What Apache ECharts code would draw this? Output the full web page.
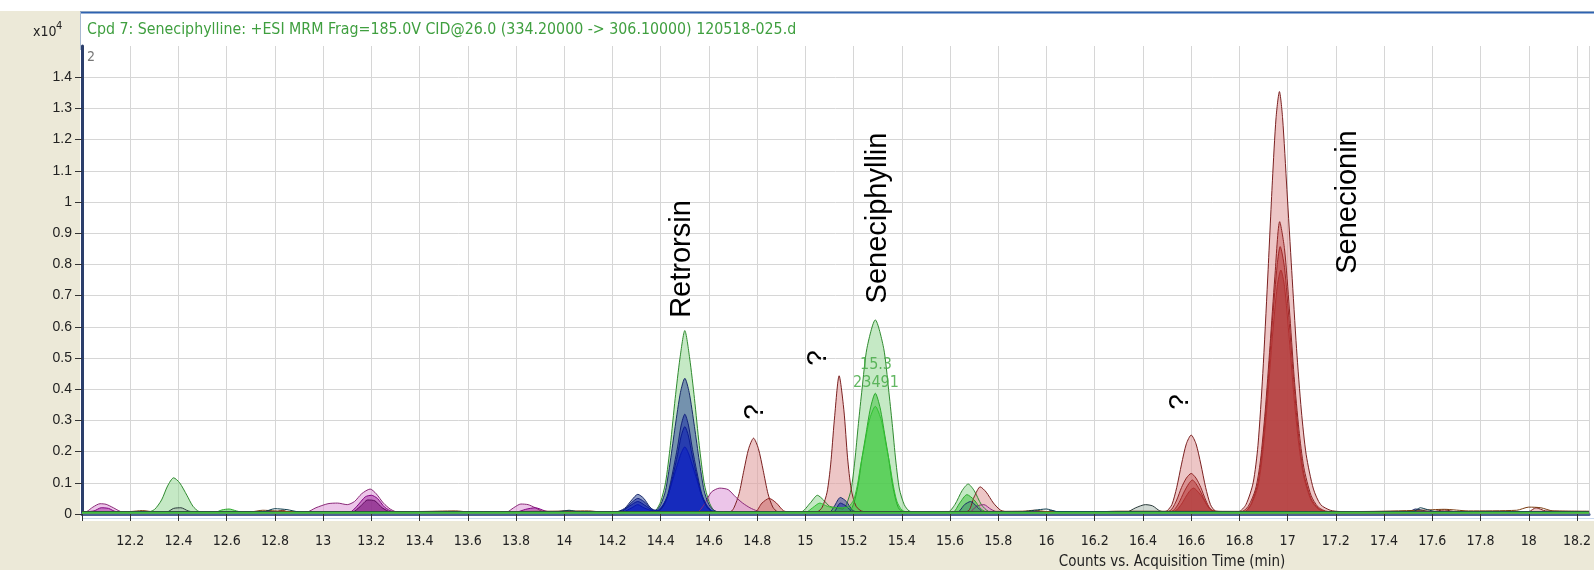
<!DOCTYPE html>
<html><head><meta charset="utf-8">
<script src="https://cdn.jsdelivr.net/npm/echarts@6/dist/echarts.min.js"></script>
<style>html,body{margin:0;padding:0;background:#ECE9D8;overflow:hidden}#c{width:1594px;height:570px}</style>
</head><body><div id="c"></div>
<script>
// ---- data: counts (x10^4) vs acquisition time (min) ----
const traceGreen1 = [[12.0,0.006],[12.27,0.006],[12.3,0.014],[12.33,0.045],[12.355,0.09],[12.38,0.116],[12.405,0.1],[12.435,0.06],[12.46,0.025],[12.485,0.008],[12.515,0.006],
 [14.36,0.006],[14.38,0.012],[14.4,0.04],[14.42,0.1],[14.44,0.22],[14.46,0.37],[14.48,0.5],[14.5,0.588],[14.52,0.5],[14.54,0.37],[14.56,0.22],[14.58,0.1],[14.6,0.04],[14.62,0.012],[14.645,0.006],
 [14.98,0.006],[15.02,0.035],[15.05,0.06],[15.075,0.045],[15.1,0.025],[15.13,0.02],[15.155,0.016],[15.17,0.03],[15.19,0.08],[15.205,0.17],[15.22,0.29],[15.235,0.4],[15.255,0.53],[15.29,0.622],[15.325,0.53],[15.345,0.4],[15.36,0.29],[15.375,0.17],[15.39,0.08],[15.41,0.03],[15.43,0.01],[15.46,0.006],
 [15.59,0.006],[15.62,0.03],[15.65,0.075],[15.675,0.096],[15.7,0.075],[15.73,0.03],[15.76,0.008],[15.79,0.006],[18.25,0.006]];
const traceGreen2 = [[12.0,0.005],[12.55,0.005],[12.58,0.013],[12.61,0.016],[12.64,0.01],[12.67,0.005],
 [15.17,0.005],[15.19,0.015],[15.205,0.045],[15.22,0.1],[15.235,0.18],[15.25,0.25],[15.27,0.34],[15.29,0.387],[15.31,0.34],[15.33,0.25],[15.345,0.18],[15.36,0.1],[15.375,0.045],[15.39,0.015],[15.42,0.005],
 [15.61,0.005],[15.64,0.035],[15.67,0.062],[15.7,0.045],[15.73,0.015],[15.76,0.005],[18.25,0.005]];
const traceGreen3 = [[12.0,0.005],[15.0,0.005],[15.03,0.02],[15.06,0.035],[15.09,0.025],[15.12,0.02],[15.16,0.02],[15.18,0.024],[15.2,0.045],[15.215,0.09],[15.23,0.16],[15.245,0.22],[15.265,0.3],[15.29,0.345],[15.315,0.3],[15.335,0.22],[15.35,0.16],[15.365,0.09],[15.38,0.04],[15.4,0.013],[15.43,0.005],[18.25,0.005]];
const traceBlue1 = [[12.0,0.006],[13.95,0.006],[14.0,0.01],[14.05,0.006],[14.21,0.006],[14.25,0.018],[14.28,0.045],[14.305,0.063],[14.33,0.05],[14.355,0.022],[14.37,0.013],
 [14.38,0.012],[14.4,0.03],[14.42,0.075],[14.44,0.17],[14.46,0.28],[14.482,0.39],[14.5,0.435],[14.518,0.39],[14.54,0.28],[14.56,0.17],[14.58,0.075],[14.6,0.03],[14.62,0.012],[14.645,0.006],
 [15.1,0.006],[15.12,0.025],[15.145,0.053],[15.17,0.04],[15.195,0.012],[15.22,0.006],
 [15.63,0.006],[15.66,0.03],[15.685,0.04],[15.71,0.025],[15.74,0.006],
 [16.0,0.006],[16.02,0.012],[16.05,0.006],[17.5,0.006],[17.53,0.016],[17.57,0.01],[17.6,0.006],[18.25,0.006]];
const traceBlue2 = [[12.0,0.006],[14.21,0.006],[14.25,0.015],[14.28,0.037],[14.305,0.05],[14.33,0.04],[14.36,0.018],[14.375,0.012],
 [14.39,0.012],[14.41,0.027],[14.43,0.065],[14.45,0.135],[14.47,0.215],[14.485,0.285],[14.5,0.32],[14.515,0.285],[14.53,0.215],[14.55,0.135],[14.57,0.065],[14.59,0.027],[14.61,0.01],[14.64,0.006],
 [15.115,0.006],[15.145,0.035],[15.17,0.025],[15.2,0.006],[18.25,0.006]];
const traceBlue3 = [[12.0,0.006],[14.23,0.006],[14.27,0.025],[14.305,0.04],[14.34,0.025],[14.37,0.01],
 [14.39,0.009],[14.41,0.024],[14.43,0.058],[14.45,0.12],[14.47,0.19],[14.485,0.25],[14.5,0.28],[14.515,0.25],[14.53,0.19],[14.55,0.12],[14.57,0.058],[14.59,0.024],[14.61,0.009],[14.64,0.006],[18.25,0.006]];
const traceBlue4 = [[12.0,0.006],[14.24,0.006],[14.28,0.02],[14.305,0.03],[14.33,0.02],[14.37,0.01],
 [14.39,0.012],[14.41,0.03],[14.43,0.06],[14.45,0.11],[14.47,0.16],[14.485,0.195],[14.5,0.215],[14.515,0.195],[14.53,0.16],[14.55,0.11],[14.57,0.06],[14.59,0.03],[14.61,0.012],[14.64,0.006],[18.25,0.006]];
const traceRed1 = [[12.0,0.006],[12.8,0.006],[12.83,0.012],[12.86,0.006],
 [14.69,0.008],[14.705,0.022],[14.725,0.065],[14.745,0.14],[14.765,0.21],[14.785,0.243],[14.805,0.21],[14.825,0.14],[14.845,0.065],[14.865,0.022],[14.885,0.008],
 [15.05,0.008],[15.07,0.022],[15.09,0.07],[15.105,0.16],[15.12,0.3],[15.14,0.443],[15.16,0.33],[15.175,0.18],[15.19,0.08],[15.21,0.025],[15.24,0.008],
 [15.67,0.008],[15.7,0.055],[15.725,0.087],[15.75,0.07],[15.78,0.035],[15.81,0.012],[15.84,0.007],
 [16.49,0.008],[16.5,0.01],[16.52,0.03],[16.54,0.085],[16.56,0.16],[16.58,0.225],[16.6,0.253],[16.62,0.225],[16.64,0.16],[16.66,0.085],[16.68,0.03],[16.7,0.01],[16.73,0.008],
 [16.797,0.008],[16.827,0.03],[16.857,0.1],[16.877,0.22],[16.897,0.45],[16.917,0.75],[16.937,1.07],[16.952,1.27],[16.966,1.354],[16.979,1.27],[16.997,1.04],[17.017,0.78],[17.037,0.53],[17.057,0.33],[17.077,0.19],[17.107,0.08],[17.137,0.03],[17.177,0.012],[17.217,0.008],
 [17.6,0.008],[17.65,0.013],[17.7,0.007],[18.0,0.008],[18.03,0.02],[18.07,0.01],[18.25,0.008]];
const traceRed2 = [[12.0,0.007],[14.79,0.007],[14.82,0.035],[14.85,0.05],[14.88,0.035],[14.91,0.01],[14.94,0.007],
 [16.5,0.007],[16.52,0.016],[16.54,0.045],[16.56,0.085],[16.58,0.115],[16.6,0.13],[16.62,0.115],[16.64,0.085],[16.66,0.045],[16.68,0.016],[16.71,0.007],
 [16.807,0.007],[16.837,0.025],[16.867,0.08],[16.887,0.17],[16.907,0.33],[16.927,0.54],[16.947,0.76],[16.967,0.937],[16.987,0.85],[17.007,0.66],[17.027,0.44],[17.047,0.27],[17.067,0.15],[17.097,0.06],[17.127,0.022],[17.167,0.008],[18.25,0.007]];
const traceRed3 = [[12.0,0.006],[16.51,0.006],[16.53,0.014],[16.55,0.037],[16.57,0.07],[16.59,0.097],[16.605,0.109],[16.62,0.097],[16.64,0.07],[16.66,0.037],[16.68,0.014],[16.71,0.006],
 [16.817,0.006],[16.847,0.03],[16.877,0.1],[16.897,0.22],[16.917,0.4],[16.937,0.62],[16.957,0.8],[16.969,0.857],[16.987,0.79],[17.007,0.61],[17.027,0.41],[17.047,0.24],[17.067,0.13],[17.097,0.05],[17.127,0.018],[17.167,0.006],[18.25,0.006]];
const traceRed4 = [[12.0,0.006],[16.52,0.006],[16.54,0.013],[16.56,0.032],[16.58,0.058],[16.595,0.075],[16.61,0.083],[16.625,0.074],[16.645,0.055],[16.665,0.03],[16.685,0.011],[16.71,0.006],
 [16.817,0.006],[16.847,0.028],[16.877,0.09],[16.897,0.2],[16.917,0.37],[16.937,0.57],[16.957,0.73],[16.972,0.782],[16.987,0.73],[17.007,0.56],[17.027,0.37],[17.047,0.22],[17.067,0.12],[17.097,0.045],[17.127,0.016],[17.167,0.006],[18.25,0.006]];
const tracePink = [[12.0,0.006],[12.02,0.008],[12.045,0.022],[12.075,0.033],[12.1,0.031],[12.13,0.02],[12.16,0.008],[12.19,0.006],
 [12.93,0.006],[12.97,0.02],[13.02,0.033],[13.06,0.035],[13.1,0.03],[13.13,0.04],[13.16,0.065],[13.195,0.08],[13.22,0.065],[13.25,0.035],[13.28,0.015],[13.31,0.006],
 [13.76,0.006],[13.79,0.02],[13.82,0.032],[13.85,0.03],[13.88,0.02],[13.91,0.008],[13.94,0.006],
 [14.55,0.006],[14.58,0.03],[14.61,0.07],[14.645,0.083],[14.68,0.078],[14.71,0.055],[14.74,0.035],[14.77,0.02],[14.8,0.01],[14.83,0.006],
 [15.68,0.006],[15.71,0.025],[15.74,0.03],[15.77,0.015],[15.8,0.006],[18.25,0.006]];
const traceMagenta = [[12.0,0.006],[12.05,0.01],[12.08,0.02],[12.11,0.018],[12.14,0.008],[13.11,0.006],[13.14,0.025],[13.175,0.055],[13.2,0.06],[13.225,0.05],[13.255,0.022],[13.29,0.008],[13.8,0.006],[13.84,0.015],[13.88,0.02],[13.92,0.01],[13.95,0.006],[18.25,0.006]];
const tracePurple = [[12.0,0.006],[13.12,0.006],[13.155,0.025],[13.185,0.045],[13.215,0.042],[13.245,0.02],[13.28,0.007],[18.25,0.006]];
const traceGray = [[12.0,0.006],[12.35,0.006],[12.38,0.018],[12.41,0.02],[12.44,0.01],[12.47,0.006],[16.33,0.006],[16.37,0.02],[16.41,0.03],[16.44,0.026],[16.47,0.01],[16.5,0.006],[18.25,0.006]];
const traceBrown = [[12.0,0.008],[12.2,0.008],[12.25,0.011],[12.3,0.007],[12.7,0.007],[12.75,0.012],[12.8,0.01],[12.9,0.007],[13.4,0.008],[13.55,0.01],[13.6,0.007],[13.95,0.009],[14.1,0.01],[14.15,0.007],[15.5,0.008],[15.9,0.009],[15.95,0.012],[16.0,0.008],[16.2,0.007],[16.3,0.009],[17.3,0.008],[17.55,0.012],[17.65,0.015],[17.75,0.01],[17.95,0.012],[18.0,0.022],[18.05,0.02],[18.1,0.01],[18.25,0.009]];
const traceTeal = [[12.0,0.007],[12.75,0.007],[12.8,0.017],[12.85,0.014],[12.9,0.007],[13.98,0.007],[14.02,0.012],[14.06,0.007],[15.9,0.007],[15.95,0.012],[16.0,0.016],[16.04,0.008],[17.52,0.007],[17.55,0.02],[17.58,0.014],[17.62,0.007],[18.25,0.007]];
const traceBaseline = [[12.0,0.004],[18.25,0.004]];

const titleText = 'Cpd 7: Seneciphylline: +ESI MRM Frag=185.0V CID@26.0 (334.20000 -> 306.10000) 120518-025.d';
const xAxisTitle = 'Counts vs. Acquisition Time (min)';
const peakLabels = ['Retrorsin', 'Seneciphyllin', 'Senecionin', '?', '?', '?'];
const peakInfo = ['15.3', '23491'];

// ---- rendering ----
const NARROW = "'Liberation Sans Narrow','Arial Narrow','DejaVu Sans Condensed',sans-serif";
const SANS = "'Liberation Sans',Arial,sans-serif";

function trace(data, line, fill, w) {
  return {
    type: 'line', data: data, smooth: 0.25, symbol: 'none', silent: true, animation: false,
    lineStyle: { color: line, width: w || 1 },
    itemStyle: { color: line },
    areaStyle: fill ? { color: fill, opacity: 1 } : undefined
  };
}

const chart = echarts.init(document.getElementById('c'), null, { renderer: 'canvas' });
const series = [
  trace(traceGreen1, '#2f8a2f', 'rgba(150,215,150,0.55)'),
  trace(traceRed1, '#7a2020', 'rgba(225,160,160,0.6)'),
  trace(tracePink, '#8a2a78', 'rgba(220,150,215,0.55)'),
  trace(traceBlue1, '#1a2a6a', 'rgba(50,75,155,0.55)'),
  trace(traceGreen2, '#2aa82a', 'rgba(70,195,70,0.55)'),
  trace(traceRed2, '#8e2424', 'rgba(200,95,95,0.5)'),
  trace(traceBlue2, '#12207a', 'rgba(30,50,165,0.55)'),
  trace(traceRed3, '#a02828', 'rgba(185,65,65,0.55)'),
  trace(traceBlue3, '#0a1a90', 'rgba(20,40,180,0.6)'),
  trace(traceRed4, '#b03030', 'rgba(175,55,55,0.6)'),
  trace(traceBlue4, '#0818b0', 'rgba(15,35,195,0.7)'),
  trace(traceGreen3, '#33c033', 'rgba(70,205,70,0.55)'),
  trace(traceMagenta, '#800080', 'rgba(160,40,160,0.5)'),
  trace(tracePurple, '#5a0a5a', 'rgba(120,20,120,0.55)'),
  trace(traceGray, '#2a3a3a', 'rgba(150,170,160,0.45)'),
  trace(traceBrown, '#7a3b10', null),
  trace(traceTeal, '#0b3b4b', null),
  trace(traceBaseline, '#3fbf3f', null, 2)
];

const option = {
  backgroundColor: '#ECE9D8',
  animation: false,
  grid: { left: 82, right: 0, top: 46, bottom: 56, show: false },
  xAxis: {
    type: 'value', min: 12.0, max: 18.25, interval: 0.2, offset: 8,
    axisLine: { show: true, lineStyle: { color: '#4d6290', width: 3 } },
    axisTick: { show: true, length: 7, lineStyle: { color: '#333', width: 1 } },
    axisLabel: {
      color: '#222', fontFamily: NARROW, fontSize: 14, margin: 12, showMaxLabel: false,
      formatter: function (v) { if (v < 12.1 || v > 18.21) return ''; return String(Math.round(v * 10) / 10); }
    },
    splitLine: { show: true, lineStyle: { color: '#d6d6d6', width: 1 } }
  },
  yAxis: {
    type: 'value', min: 0, max: 1.5, interval: 0.1,
    axisLine: { show: true, lineStyle: { color: '#2c3f6c', width: 3 } },
    axisTick: { show: true, length: 7, lineStyle: { color: '#333', width: 1 } },
    axisLabel: {
      color: '#222', fontFamily: SANS, fontSize: 14, margin: 10, showMaxLabel: false,
      formatter: function (v) { if (v > 1.45) return ''; return String(Math.round(v * 10) / 10); }
    },
    splitLine: { show: true, showMaxLine: false, lineStyle: { color: '#d6d6d6', width: 1 } }
  },
  graphic: [
    { type: 'rect', z: -100, silent: true, shape: { x: 0, y: 0, width: 1594, height: 11 }, style: { fill: '#ffffff' } },
    { type: 'rect', z: -100, silent: true, shape: { x: 80, y: 12, width: 1514, height: 509 }, style: { fill: '#ffffff' } },
    { type: 'line', z: -90, silent: true, shape: { x1: 80, y1: 12.5, x2: 1594, y2: 12.5 }, style: { stroke: '#2e62b0', lineWidth: 2 } },
    { type: 'line', z: -90, silent: true, shape: { x1: 80.5, y1: 12, x2: 80.5, y2: 50 }, style: { stroke: '#a8b8d0', lineWidth: 1 } },
    { type: 'line', z: -90, silent: true, shape: { x1: 82, y1: 518.5, x2: 1594, y2: 518.5 }, style: { stroke: '#c9d8ee', lineWidth: 1 } },
    { type: 'text', z: 100, silent: true, x: 87, y: 30, style: { text: titleText, fill: '#3f9f3f', font: '15.8px ' + NARROW, verticalAlign: 'middle', align: 'left' } },
    { type: 'text', z: 100, silent: true, x: 33, y: 32, style: { text: 'x10', fill: '#222', font: '14px ' + NARROW, verticalAlign: 'middle', align: 'left' } },
    { type: 'text', z: 100, silent: true, x: 56, y: 26, style: { text: '4', fill: '#222', font: '11px ' + NARROW, verticalAlign: 'middle', align: 'left' } },
    { type: 'text', z: 100, silent: true, x: 87, y: 57, style: { text: '2', fill: '#777', font: '14px ' + NARROW, verticalAlign: 'middle', align: 'left' } },
    { type: 'text', z: 100, silent: true, x: 1172, y: 562, style: { text: xAxisTitle, fill: '#222', font: '15px ' + NARROW, verticalAlign: 'middle', align: 'center' } },
    { type: 'text', z: 100, silent: true, x: 682, y: 259, rotation: Math.PI / 2, style: { text: peakLabels[0], fill: '#000', font: '29px ' + SANS, verticalAlign: 'middle', align: 'center' } },
    { type: 'text', z: 100, silent: true, x: 878, y: 218, rotation: Math.PI / 2, style: { text: peakLabels[1], fill: '#000', font: '29px ' + SANS, verticalAlign: 'middle', align: 'center' } },
    { type: 'text', z: 100, silent: true, x: 1348, y: 202, rotation: Math.PI / 2, style: { text: peakLabels[2], fill: '#000', font: '29px ' + SANS, verticalAlign: 'middle', align: 'center' } },
    { type: 'text', z: 100, silent: true, x: 755, y: 412, rotation: Math.PI / 2, style: { text: peakLabels[3], fill: '#000', font: '28px ' + SANS, verticalAlign: 'middle', align: 'center' } },
    { type: 'text', z: 100, silent: true, x: 818, y: 358, rotation: Math.PI / 2, style: { text: peakLabels[4], fill: '#000', font: '28px ' + SANS, verticalAlign: 'middle', align: 'center' } },
    { type: 'text', z: 100, silent: true, x: 1180, y: 402, rotation: Math.PI / 2, style: { text: peakLabels[5], fill: '#000', font: '28px ' + SANS, verticalAlign: 'middle', align: 'center' } },
    { type: 'text', z: 100, silent: true, x: 876, y: 365, style: { text: peakInfo[0], fill: 'rgba(70,170,70,0.85)', font: '16px ' + NARROW, verticalAlign: 'middle', align: 'center' } },
    { type: 'text', z: 100, silent: true, x: 876, y: 383, style: { text: peakInfo[1], fill: 'rgba(70,170,70,0.85)', font: '16px ' + NARROW, verticalAlign: 'middle', align: 'center' } }
  ],
  series: series
};
chart.setOption(option);
</script>
</body></html>
